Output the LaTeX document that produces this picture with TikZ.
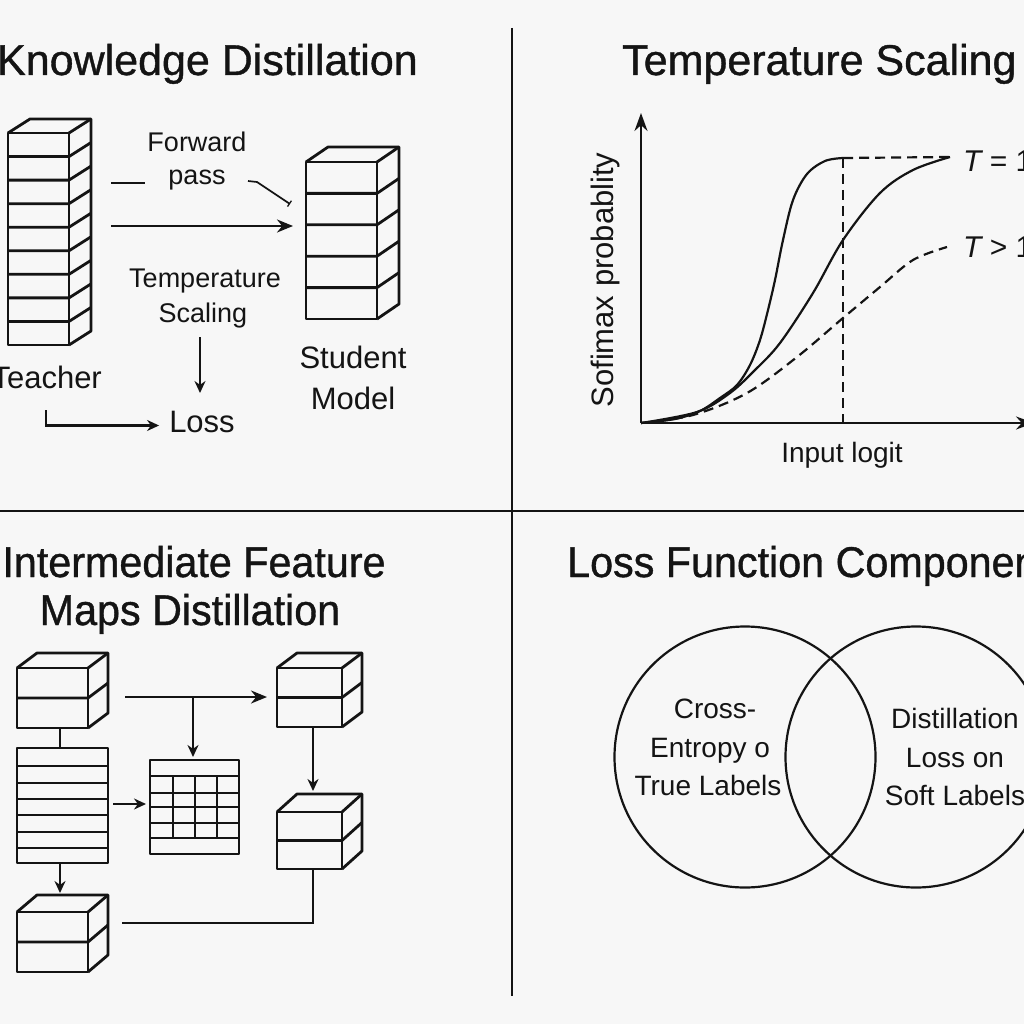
\documentclass[tikz,border=0pt]{standalone}
\usepackage{fontspec}
\setmainfont{Liberation Sans}
\newfontfamily\kdtitlefont{Liberation Sans}[BoldFont={Liberation Sans}, BoldFeatures={FakeBold=0.9}]
\usetikzlibrary{arrows.meta}
\definecolor{ink}{HTML}{141414}
\definecolor{bgc}{HTML}{F7F7F7}
\tikzset{
  ln/.style={line width=2.3pt, draw=ink},
  boxln/.style={line width=2.8pt, draw=ink, line join=round},
  divln/.style={line width=2.2pt, draw=ink},
  arr/.style={ln, -{Stealth[length=16pt,width=13pt]}},
  smallarr/.style={ln, -{Stealth[length=12pt,width=11pt]}},
  dashln/.style={line width=2.2pt, draw=ink, dash pattern=on 10pt off 6pt},
  ttl/.style={font=\kdtitlefont\bfseries\fontsize{43}{48}\selectfont, text=ink, inner sep=0pt},
  lbl/.style={font=\fontsize{27}{32}\selectfont, text=ink, inner sep=0pt},
  biglbl/.style={font=\fontsize{31}{36}\selectfont, text=ink, inner sep=0pt},
  vlbl/.style={font=\fontsize{28}{33}\selectfont, text=ink, inner sep=0pt},
  anchorbox/.style={inner sep=0pt, outer sep=0pt, anchor=north west},
}
% name x y w h n dx dy
\newcommand{\kdstack}[8]{%
  \node[anchorbox, minimum width=#4pt, minimum height=#5pt] (#1) at (#2,#3) {};
  \draw[boxln] (#2,#3) rectangle ({#2+#4},{#3+#5});
  \draw[boxln] (#2,#3) -- ({#2+#7},{#3+#8}) -- ({#2+#4+#7},{#3+#8}) -- ({#2+#4+#7},{#3+#5+#8}) -- ({#2+#4},{#3+#5});
  \draw[boxln] ({#2+#4},#3) -- ({#2+#4+#7},{#3+#8});
  \pgfmathtruncatemacro\kdlast{#6-1}
  \foreach \k in {1,...,\kdlast}{
    \draw[boxln] (#2,{#3+\k*#5/#6}) -- ({#2+#4},{#3+\k*#5/#6}) -- ({#2+#4+#7},{#3+\k*#5/#6+#8});
  }
}
\begin{document}
\begin{tikzpicture}[x=1pt,y=-1pt]
\fill[bgc] (0,0) rectangle (1024,1024);
\useasboundingbox (0,0) rectangle (1024,1024);
\clip (0,0) rectangle (1024,1024);

% dividers
\draw[divln] (512,28) -- (512,996);
\draw[divln] (0,511) -- (1024,511);

% titles
\node[ttl, anchor=base east] (t1) at (418,75) {Knowledge Distillation};
\node[ttl, anchor=base west] (t2) at (622,75) {Temperature Scaling};
\node[ttl, anchor=base, xscale=0.96] (t3a) at (194,577) {Intermediate Feature};
\node[ttl, anchor=base, xscale=0.96] (t3b) at (190,625) {Maps Distillation};
\node[ttl, anchor=base west, xscale=0.96] (t4) at (567,577) {Loss Function Components};

% ---------- Knowledge distillation ----------
\kdstack{teacher}{8}{133}{61}{212}{9}{22}{-14}
\kdstack{student}{306}{162}{71}{157}{5}{22}{-15}
\node[biglbl, anchor=base east] (teacherlbl) at (102,388) {Teacher};
\node[biglbl, anchor=base] (studentlbl1) at (353,368) {Student};
\node[biglbl, anchor=base] (studentlbl2) at (353,409) {Model};
\node[lbl, anchor=base] (fwd1) at (197,152) {Forward};
\node[lbl, anchor=base] (fwd2) at (197,185) {pass};
\node[lbl, anchor=base] (temp1) at (205,287) {Temperature};
\node[lbl, anchor=base] (temp2) at (203,322) {Scaling};
\node[biglbl, anchor=base] (loss) at (202,432) {Loss};

\coordinate (fa) at (111,183);
\coordinate (fb) at (145,183);
\draw[ln] (fa) -- (fb);
\coordinate (sq1) at (248,181);
\coordinate (sq2) at (257,182);
\coordinate (sq3) at (290,204);
\draw[line width=1.7pt, draw=ink, -{Bar[width=7pt,line width=1.3pt]}] (sq1) -- (sq2) -- (sq3);
\coordinate (ma) at (111,226);
\draw[arr] (ma) -- (student.west |- ma) [shorten >=13pt];
\coordinate (tsd) at (200,337);
\draw[smallarr] (tsd) -- (200,393);
\coordinate (la) at (46,410);
\draw[smallarr] (la) |- ([xshift=-10pt,yshift=-4pt]loss.west);

% ---------- Temperature scaling ----------
\coordinate (org) at (641,423);
\draw[ln, -{Stealth[length=18pt,width=13pt]}] (org) -- (641,113);
\draw[ln, -{Stealth[length=18pt,width=13pt]}] (org) -- (1034,423);
\node[vlbl, font=\fontsize{31}{34}\selectfont, rotate=90] (ylab) at (605,280) {Sofimax probablity};
\node[vlbl, anchor=base] (xlab) at (842,462) {Input logit};
\draw[dashln] (843,158) -- (843,423);
\draw[dashln] (843,158) -- (950,157);
\draw[ln, line width=2.2pt] plot[smooth, tension=0.55] coordinates {(641,423) (675,419) (700,411) (720,398) (737,385) (750,365) (760,340) (768,310) (775,280) (783,240) (793,200) (807,174) (825,161) (843,158)};
\draw[ln, line width=2.2pt] plot[smooth, tension=0.55] coordinates {(641,423) (697,412) (730,393) (755,370) (780,343) (813,293) (843,240) (880,193) (913,170) (950,157)};
\draw[dashln] plot[smooth, tension=0.55] coordinates {(641,423) (693,415) (747,393) (797,357) (843,318) (880,287) (913,260) (947,247)};
\node[vlbl, font=\fontsize{30}{34}\selectfont, anchor=base west] (teq) at (963,172) {\itshape T\upshape\ = 1};
\node[vlbl, font=\fontsize{30}{34}\selectfont, anchor=base west] (tgt) at (963,258) {\itshape T\upshape\ > 1};

% ---------- Intermediate feature maps ----------
\kdstack{cubeA}{17}{668}{71}{60}{2}{20}{-15}
\kdstack{cubeC}{17}{912}{71}{60}{2}{20}{-17}
\kdstack{cubeE}{277}{668}{65}{59}{2}{20}{-15}
\kdstack{cubeF}{277}{812}{65}{57}{2}{20}{-18}
% striped box
\node[anchorbox, minimum width=91pt, minimum height=115pt] (boxB) at (17,748) {};
\draw[boxln] (17,748) rectangle (108,863);
\foreach \yy/\ww in {766/2.6, 783/1.5, 799/2.6, 815/1.5, 832/2.6, 848/1.5}{
  \draw[draw=ink, line width=\ww pt] (17,\yy) -- (108,\yy);
}
% grid box
\node[anchorbox, minimum width=89pt, minimum height=94pt] (gridD) at (150,760) {};
\draw[boxln] (150,760) rectangle (239,854);
\foreach \yy/\ww in {776/2.2, 793/1.7, 807/2.4, 823/1.7, 838/2.6}{
  \draw[draw=ink, line width=\ww pt] (150,\yy) -- (239,\yy);
}
\foreach \xx in {173,195,217}{
  \draw[draw=ink, line width=2.2pt] (\xx,776) -- (\xx,838);
}
% connectors
\draw[ln] (60,748) -- (60,728);
\draw[smallarr] (60,863) -- (60,893);
\coordinate (ae) at (125,697);
\draw[arr] (ae) -- ([xshift=-10pt]cubeE.west |- ae);
\coordinate (br) at (193,697);
\draw[smallarr] (br) -- ([yshift=3pt]br |- gridD.north);
\coordinate (bd) at (113,804);
\draw[smallarr] (bd) -- ([xshift=-4pt]gridD.west |- bd);
\draw[smallarr] (313,727) -- (313,791);
\coordinate (cf) at (122,923);
\draw[ln] (cf) -| (313,869);

% ---------- Loss function components ----------
\node[circle, draw=ink, line width=2.2pt, minimum size=261pt, inner sep=0pt] (ce) at (745,757) {};
\node[circle, draw=ink, line width=2.2pt, minimum size=261pt, inner sep=0pt] (dl) at (916,757) {};
\node[vlbl, anchor=base] (ce1) at (715,718) {Cross-};
\node[vlbl, anchor=base] (ce2) at (710,757) {Entropy o};
\node[vlbl, anchor=base] (ce3) at (708,795) {True Labels};
\node[vlbl, anchor=base] (dl1) at (955,728) {Distillation};
\node[vlbl, anchor=base] (dl2) at (955,767) {Loss on};
\node[vlbl, anchor=base] (dl3) at (955,805) {Soft Labels};
\end{tikzpicture}
\end{document}
